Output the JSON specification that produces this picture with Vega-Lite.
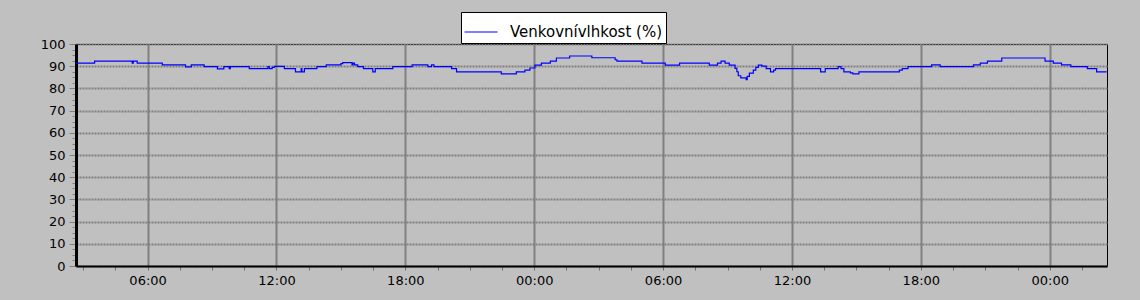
{
  "$schema": "https://vega.github.io/schema/vega-lite/v6.json",
  "autosize": "none",
  "padding": {"left": 76, "top": 44, "right": 33, "bottom": 34},
  "width": 1031,
  "height": 222,
  "background": "#c0c0c0",
  "config": {
    "view": {"stroke": "#000000", "strokeWidth": 1},
    "font": "DejaVu Sans"
  },
  "data": {
    "values": [
      {"time": "2024-01-01T02:40", "humidity": 91.4},
      {"time": "2024-01-01T03:32", "humidity": 92.3},
      {"time": "2024-01-01T05:17", "humidity": 91.4},
      {"time": "2024-01-01T05:20", "humidity": 92.3},
      {"time": "2024-01-01T05:31", "humidity": 91.4},
      {"time": "2024-01-01T06:41", "humidity": 90.6},
      {"time": "2024-01-01T07:46", "humidity": 89.7},
      {"time": "2024-01-01T08:02", "humidity": 90.6},
      {"time": "2024-01-01T08:38", "humidity": 89.8},
      {"time": "2024-01-01T09:15", "humidity": 88.8},
      {"time": "2024-01-01T09:33", "humidity": 89.8},
      {"time": "2024-01-01T09:48", "humidity": 88.9},
      {"time": "2024-01-01T09:51", "humidity": 89.8},
      {"time": "2024-01-01T10:44", "humidity": 88.9},
      {"time": "2024-01-01T11:36", "humidity": 89.8},
      {"time": "2024-01-01T11:40", "humidity": 88.9},
      {"time": "2024-01-01T11:48", "humidity": 89.5},
      {"time": "2024-01-01T11:54", "humidity": 89.9},
      {"time": "2024-01-01T12:22", "humidity": 88.9},
      {"time": "2024-01-01T12:53", "humidity": 87.4},
      {"time": "2024-01-01T13:09", "humidity": 88.9},
      {"time": "2024-01-01T13:11", "humidity": 87.4},
      {"time": "2024-01-01T13:18", "humidity": 88.9},
      {"time": "2024-01-01T13:53", "humidity": 89.8},
      {"time": "2024-01-01T14:19", "humidity": 90.6},
      {"time": "2024-01-01T15:00", "humidity": 91.2},
      {"time": "2024-01-01T15:05", "humidity": 91.6},
      {"time": "2024-01-01T15:31", "humidity": 90.6},
      {"time": "2024-01-01T15:34", "humidity": 91.4},
      {"time": "2024-01-01T15:38", "humidity": 90.6},
      {"time": "2024-01-01T15:47", "humidity": 89.8},
      {"time": "2024-01-01T16:03", "humidity": 88.9},
      {"time": "2024-01-01T16:29", "humidity": 87.4},
      {"time": "2024-01-01T16:36", "humidity": 88.9},
      {"time": "2024-01-01T17:25", "humidity": 89.8},
      {"time": "2024-01-01T18:19", "humidity": 90.6},
      {"time": "2024-01-01T19:03", "humidity": 89.8},
      {"time": "2024-01-01T19:13", "humidity": 90.6},
      {"time": "2024-01-01T19:20", "humidity": 89.8},
      {"time": "2024-01-01T20:09", "humidity": 88.9},
      {"time": "2024-01-01T20:23", "humidity": 87.4},
      {"time": "2024-01-01T22:28", "humidity": 86.5},
      {"time": "2024-01-01T23:10", "humidity": 87.4},
      {"time": "2024-01-01T23:34", "humidity": 88.2},
      {"time": "2024-01-01T23:48", "humidity": 89.2},
      {"time": "2024-01-02T00:02", "humidity": 90.5},
      {"time": "2024-01-02T00:20", "humidity": 91.4},
      {"time": "2024-01-02T00:45", "humidity": 92.3},
      {"time": "2024-01-02T01:02", "humidity": 93.7},
      {"time": "2024-01-02T01:39", "humidity": 94.6},
      {"time": "2024-01-02T02:41", "humidity": 93.8},
      {"time": "2024-01-02T03:46", "humidity": 92.9},
      {"time": "2024-01-02T03:51", "humidity": 92.3},
      {"time": "2024-01-02T05:01", "humidity": 91.4},
      {"time": "2024-01-02T06:06", "humidity": 90.5},
      {"time": "2024-01-02T06:46", "humidity": 91.4},
      {"time": "2024-01-02T08:09", "humidity": 90.5},
      {"time": "2024-01-02T08:32", "humidity": 91.4},
      {"time": "2024-01-02T08:42", "humidity": 92.3},
      {"time": "2024-01-02T08:53", "humidity": 91.4},
      {"time": "2024-01-02T09:05", "humidity": 90.5},
      {"time": "2024-01-02T09:21", "humidity": 89.0},
      {"time": "2024-01-02T09:26", "humidity": 87.5},
      {"time": "2024-01-02T09:30", "humidity": 85.7},
      {"time": "2024-01-02T09:37", "humidity": 84.7},
      {"time": "2024-01-02T09:52", "humidity": 83.9},
      {"time": "2024-01-02T09:55", "humidity": 85.4},
      {"time": "2024-01-02T10:01", "humidity": 86.9},
      {"time": "2024-01-02T10:12", "humidity": 88.2},
      {"time": "2024-01-02T10:19", "humidity": 89.5},
      {"time": "2024-01-02T10:26", "humidity": 90.5},
      {"time": "2024-01-02T10:36", "humidity": 90.0},
      {"time": "2024-01-02T10:48", "humidity": 88.9},
      {"time": "2024-01-02T11:00", "humidity": 87.4},
      {"time": "2024-01-02T11:09", "humidity": 88.2},
      {"time": "2024-01-02T11:14", "humidity": 88.9},
      {"time": "2024-01-02T13:20", "humidity": 87.4},
      {"time": "2024-01-02T13:33", "humidity": 88.9},
      {"time": "2024-01-02T14:09", "humidity": 89.8},
      {"time": "2024-01-02T14:17", "humidity": 88.9},
      {"time": "2024-01-02T14:25", "humidity": 87.4},
      {"time": "2024-01-02T14:43", "humidity": 87.0},
      {"time": "2024-01-02T14:50", "humidity": 86.5},
      {"time": "2024-01-02T15:07", "humidity": 87.4},
      {"time": "2024-01-02T17:00", "humidity": 88.2},
      {"time": "2024-01-02T17:08", "humidity": 88.9},
      {"time": "2024-01-02T17:24", "humidity": 89.8},
      {"time": "2024-01-02T18:30", "humidity": 90.6},
      {"time": "2024-01-02T18:54", "humidity": 89.8},
      {"time": "2024-01-02T20:27", "humidity": 90.6},
      {"time": "2024-01-02T20:46", "humidity": 91.4},
      {"time": "2024-01-02T21:06", "humidity": 92.3},
      {"time": "2024-01-02T21:46", "humidity": 93.7},
      {"time": "2024-01-02T23:47", "humidity": 92.3},
      {"time": "2024-01-03T00:10", "humidity": 91.4},
      {"time": "2024-01-03T00:33", "humidity": 90.6},
      {"time": "2024-01-03T00:59", "humidity": 89.8},
      {"time": "2024-01-03T01:45", "humidity": 88.9},
      {"time": "2024-01-03T02:11", "humidity": 87.4},
      {"time": "2024-01-03T02:39", "humidity": 87.4}
    ]
  },
  "mark": {"type": "line", "interpolate": "step-after", "strokeWidth": 1.2},
  "encoding": {
    "x": {
      "field": "time",
      "type": "temporal",
      "scale": {
        "domain": [
          {"year": 2024, "month": 1, "date": 1, "hours": 2, "minutes": 40},
          {"year": 2024, "month": 1, "date": 3, "hours": 2, "minutes": 40}
        ]
      },
      "axis": {
        "title": null,
        "values": [
          {"year": 2024, "month": 1, "date": 1, "hours": 3},
          {"year": 2024, "month": 1, "date": 1, "hours": 4, "minutes": 30},
          {"year": 2024, "month": 1, "date": 1, "hours": 6},
          {"year": 2024, "month": 1, "date": 1, "hours": 7, "minutes": 30},
          {"year": 2024, "month": 1, "date": 1, "hours": 9},
          {"year": 2024, "month": 1, "date": 1, "hours": 10, "minutes": 30},
          {"year": 2024, "month": 1, "date": 1, "hours": 12},
          {"year": 2024, "month": 1, "date": 1, "hours": 13, "minutes": 30},
          {"year": 2024, "month": 1, "date": 1, "hours": 15},
          {"year": 2024, "month": 1, "date": 1, "hours": 16, "minutes": 30},
          {"year": 2024, "month": 1, "date": 1, "hours": 18},
          {"year": 2024, "month": 1, "date": 1, "hours": 19, "minutes": 30},
          {"year": 2024, "month": 1, "date": 1, "hours": 21},
          {"year": 2024, "month": 1, "date": 1, "hours": 22, "minutes": 30},
          {"year": 2024, "month": 1, "date": 2, "hours": 0},
          {"year": 2024, "month": 1, "date": 2, "hours": 1, "minutes": 30},
          {"year": 2024, "month": 1, "date": 2, "hours": 3},
          {"year": 2024, "month": 1, "date": 2, "hours": 4, "minutes": 30},
          {"year": 2024, "month": 1, "date": 2, "hours": 6},
          {"year": 2024, "month": 1, "date": 2, "hours": 7, "minutes": 30},
          {"year": 2024, "month": 1, "date": 2, "hours": 9},
          {"year": 2024, "month": 1, "date": 2, "hours": 10, "minutes": 30},
          {"year": 2024, "month": 1, "date": 2, "hours": 12},
          {"year": 2024, "month": 1, "date": 2, "hours": 13, "minutes": 30},
          {"year": 2024, "month": 1, "date": 2, "hours": 15},
          {"year": 2024, "month": 1, "date": 2, "hours": 16, "minutes": 30},
          {"year": 2024, "month": 1, "date": 2, "hours": 18},
          {"year": 2024, "month": 1, "date": 2, "hours": 19, "minutes": 30},
          {"year": 2024, "month": 1, "date": 2, "hours": 21},
          {"year": 2024, "month": 1, "date": 2, "hours": 22, "minutes": 30},
          {"year": 2024, "month": 1, "date": 3, "hours": 0},
          {"year": 2024, "month": 1, "date": 3, "hours": 1, "minutes": 30}
        ],
        "labelExpr": "(hours(datum.value) % 6 == 0 && minutes(datum.value) == 0) ? timeFormat(datum.value, '%H:%M') : ''",
        "labelOverlap": false,
        "labelFlush": false,
        "labelFont": "DejaVu Sans",
        "labelFontSize": 13,
        "labelColor": "#000000",
        "labelPadding": 4,
        "domainColor": "#000000",
        "domainWidth": 2,
        "tickColor": "#707070",
        "tickSize": 4,
        "tickWidth": 1,
        "grid": true,
        "gridColor": "#808080",
        "gridWidth": 2,
        "gridOpacity": {
          "condition": {"test": "hours(datum.value) % 6 == 0 && minutes(datum.value) == 0", "value": 1},
          "value": 0
        }
      }
    },
    "y": {
      "field": "humidity",
      "type": "quantitative",
      "scale": {"domain": [0, 100], "nice": false},
      "axis": {
        "title": null,
        "values": [0, 2.5, 5, 7.5, 10, 12.5, 15, 17.5, 20, 22.5, 25, 27.5, 30, 32.5, 35, 37.5, 40, 42.5, 45, 47.5, 50, 52.5, 55, 57.5, 60, 62.5, 65, 67.5, 70, 72.5, 75, 77.5, 80, 82.5, 85, 87.5, 90, 92.5, 95, 97.5, 100],
        "labelExpr": "datum.value % 10 == 0 ? datum.label : ''",
        "labelOverlap": false,
        "labelFlush": false,
        "labelFont": "DejaVu Sans",
        "labelFontSize": 13,
        "labelColor": "#000000",
        "labelPadding": 4,
        "domainColor": "#000000",
        "domainWidth": 3,
        "tickColor": "#808080",
        "tickWidth": 1,
        "tickSize": {
          "condition": {"test": "datum.value % 10 == 0", "value": 7},
          "value": 4
        },
        "grid": true,
        "gridColor": "#808080",
        "gridWidth": 2,
        "gridDash": [2, 1],
        "gridOpacity": {
          "condition": {"test": "datum.value % 10 == 0", "value": 1},
          "value": 0
        }
      }
    },
    "color": {
      "datum": "Venkovnívlhkost (%)",
      "type": "nominal",
      "scale": {"range": ["#0000ff"]},
      "legend": {
        "title": null,
        "orient": "none",
        "legendX": 385,
        "legendY": -32,
        "fillColor": "#ffffff",
        "strokeColor": "#000000",
        "padding": 3,
        "symbolType": "stroke",
        "symbolSize": 1089,
        "symbolStrokeWidth": 1,
        "labelFont": "DejaVu Sans",
        "labelFontSize": 15,
        "labelColor": "#000000",
        "labelOffset": 12,
        "labelLimit": 400
      }
    }
  }
}
